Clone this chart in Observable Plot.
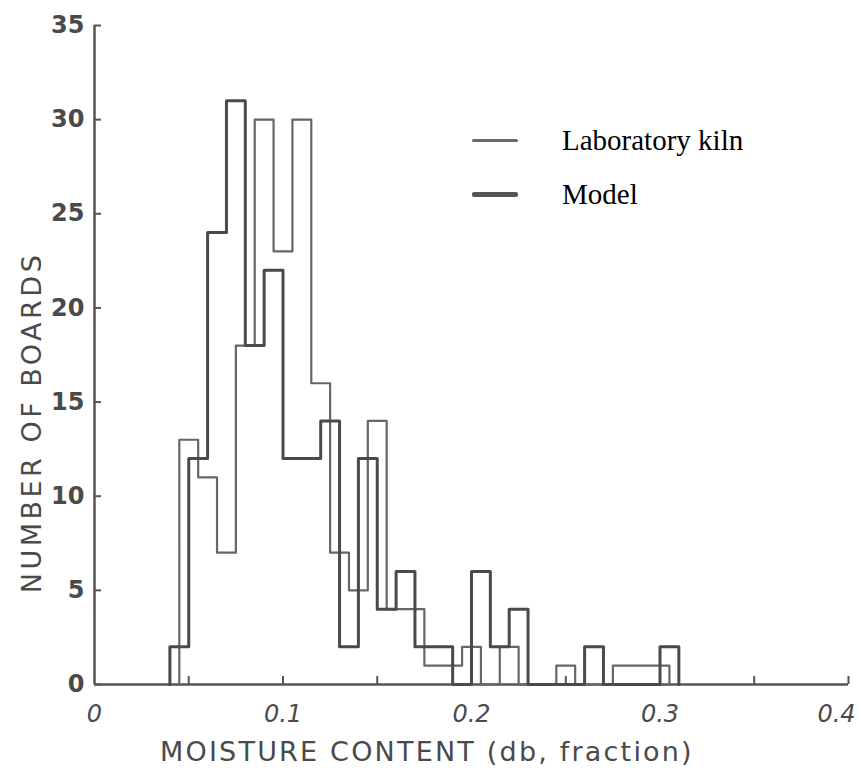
<!DOCTYPE html>
<html>
<head>
<meta charset="utf-8">
<script src="https://cdn.jsdelivr.net/npm/d3@7"></script>
<script src="https://cdn.jsdelivr.net/npm/@observablehq/plot@0.6"></script>
<style>
  html, body { margin: 0; padding: 0; background: #fff; }
  #wrap { position: relative; width: 861px; height: 772px; overflow: hidden; }
  .legend { position: absolute; left: 472px; height: 40px; font-family: "Liberation Serif", "Times New Roman", serif; font-size: 29px; color: #000; display: flex; align-items: center; white-space: nowrap; }
  .legend .sw { width: 46px; margin-right: 44px; border-radius: 2px; }
  .atitle { position: absolute; font-family: "DejaVu Sans", sans-serif; font-size: 27px; color: #4a4a4a; white-space: nowrap; line-height: 1; }
</style>
</head>
<body>
<div id="wrap">
  <div id="chart"></div>
  <div class="legend" style="top:120px;"><span class="sw" style="height:3px;background:#6a6a6a"></span><span>Laboratory kiln</span></div>
  <div class="legend" style="top:174px;"><span class="sw" style="height:5px;background:#555"></span><span>Model</span></div>
  <div class="atitle" id="xtitle" style="left:160px; top:738px; letter-spacing:2.2px;">MOISTURE CONTENT (db, fraction)</div>
  <div class="atitle" id="ytitle" style="letter-spacing:3.5px;">NUMBER OF BOARDS</div>
</div>
<script>
// Model histogram (bin edges, width 0.01)
const modelEdges = [0.04,0.05,0.06,0.07,0.08,0.09,0.10,0.11,0.12,0.13,0.14,0.15,0.16,0.17,0.18,0.19,0.20,0.21,0.22,0.23,0.24,0.25,0.26,0.27,0.28,0.29,0.30,0.31];
const modelCounts = [2,12,24,31,18,22,12,12,14,2,12,4,6,2,2,0,6,2,4,0,0,0,2,0,0,0,2];
// Laboratory kiln histogram (bin edges offset by half a bin)
const labEdges = [0.045,0.055,0.065,0.075,0.085,0.095,0.105,0.115,0.125,0.135,0.145,0.155,0.165,0.175,0.185,0.195,0.205,0.215,0.225,0.235,0.245,0.255,0.265,0.275,0.285,0.295,0.305];
const labCounts = [13,11,7,18,30,23,30,16,7,5,14,4,4,1,1,2,0,2,0,0,1,0,0,1,1,1];
// Axis ticks
const yTicks = [0,5,10,15,20,25,30,35];
const xTickMarks = [0.05,0.1,0.15,0.2,0.25,0.3,0.35,0.4];
const xTickLabels = [0,0.1,0.2,0.3];
const xTickLabelEnd = [0.4];

function stepPoints(edges, counts) {
  const pts = [{x: edges[0], y: 0}];
  counts.forEach((c, i) => pts.push({x: edges[i], y: c}));
  pts.push({x: edges[edges.length - 1], y: 0});
  return pts;
}

const ink = "#555";
const textInk = "#4a4a4a";
const handFont = "DejaVu Sans, sans-serif";
const fmt = d => d === 0 ? "0" : String(d);

const plot = Plot.plot({
  width: 861,
  height: 772,
  marginLeft: 94,
  marginRight: 13,
  marginTop: 25,
  marginBottom: 88,
  style: {background: "white", fontFamily: handFont},
  x: {domain: [0, 0.4]},
  y: {domain: [0, 35]},
  marks: [
    Plot.ruleY([0], {stroke: ink, strokeWidth: 2.5}),
    Plot.ruleX([0], {stroke: ink, strokeWidth: 2.5}),
    Plot.tickY(yTicks, {y: d => d, stroke: ink, strokeWidth: 2, insetRight: 747}),
    Plot.tickX(xTickMarks, {x: d => d, stroke: ink, strokeWidth: 2, insetTop: 651}),
    Plot.line(stepPoints(labEdges, labCounts), {x: "x", y: "y", curve: "step-after", stroke: "#666", strokeWidth: 2.2}),
    Plot.line(stepPoints(modelEdges, modelCounts), {x: "x", y: "y", curve: "step-after", stroke: "#4a4a4a", strokeWidth: 3}),
    Plot.axisY({ticks: yTicks, tickSize: 0, tickPadding: 10, fontSize: 24, fontWeight: "bold", fill: textInk, label: null}),
    Plot.axisX({ticks: xTickLabels, tickSize: 0, tickPadding: 20, fontSize: 24, fontStyle: "italic", fill: textInk, label: null, tickFormat: fmt}),
    Plot.axisX({ticks: xTickLabelEnd, tickSize: 0, tickPadding: 20, fontSize: 24, fontStyle: "italic", fill: textInk, label: null, tickFormat: fmt, dx: -12})
  ]
});
document.getElementById("chart").appendChild(plot);

// place rotated y title centred at (32, 422)
const yt = document.getElementById("ytitle");
const w = yt.offsetWidth, h = yt.offsetHeight;
yt.style.left = (32 - w / 2) + "px";
yt.style.top = (422 - h / 2) + "px";
yt.style.transform = "rotate(-90deg)";
</script>
</body>
</html>
